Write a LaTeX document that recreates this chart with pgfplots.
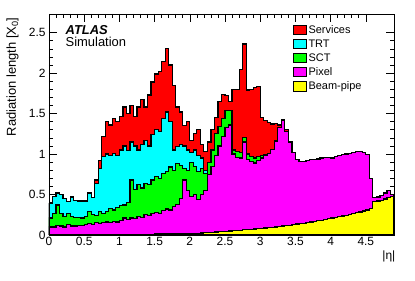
\documentclass[border=0pt]{standalone}
\usepackage{pgfplots}
\pgfplotsset{compat=1.18}
\usepackage{pgfplotstable}
\usepackage{fontspec}
\setmainfont{Liberation Sans}
\definecolor{rred}{RGB}{255,0,0}
\definecolor{rcyan}{RGB}{0,255,255}
\definecolor{rgreen}{RGB}{0,255,0}
\definecolor{rmag}{RGB}{255,0,255}
\definecolor{ryel}{RGB}{255,255,0}
\pgfplotstableread{
eta bp px sct trt tot
0.00 0.005 0.10 0.21 0.39 0.39
0.05 0.005 0.10 0.27 0.48 0.48
0.10 0.005 0.12 0.37 0.52 0.52
0.15 0.005 0.11 0.27 0.50 0.50
0.20 0.005 0.10 0.23 0.45 0.45
0.25 0.005 0.13 0.27 0.41 0.41
0.30 0.005 0.11 0.23 0.47 0.47
0.35 0.005 0.11 0.22 0.43 0.43
0.40 0.005 0.12 0.22 0.42 0.42
0.45 0.005 0.12 0.21 0.42 0.42
0.50 0.005 0.13 0.23 0.42 0.42
0.55 0.005 0.14 0.29 0.52 0.52
0.60 0.005 0.13 0.25 0.46 0.46
0.65 0.005 0.15 0.24 0.64 0.68
0.70 0.005 0.14 0.29 0.82 0.92
0.75 0.005 0.15 0.27 0.97 1.22
0.80 0.005 0.16 0.29 1.00 1.40
0.85 0.005 0.15 0.33 0.98 1.36
0.90 0.005 0.17 0.31 1.01 1.44
0.95 0.005 0.16 0.34 0.98 1.40
1.00 0.008 0.18 0.36 1.05 1.46
1.05 0.008 0.21 0.37 1.10 1.58
1.10 0.008 0.19 0.40 1.04 1.50
1.15 0.008 0.21 0.68 1.15 1.60
1.20 0.008 0.20 0.56 1.10 1.46
1.25 0.008 0.23 0.62 1.05 1.58
1.30 0.008 0.22 0.58 1.12 1.67
1.35 0.008 0.25 0.64 1.17 1.58
1.40 0.008 0.24 0.62 1.10 1.73
1.45 0.008 0.27 0.68 1.24 1.89
1.50 0.012 0.28 0.72 1.30 1.99
1.55 0.012 0.27 0.70 1.28 2.02
1.60 0.012 0.30 0.76 1.44 2.14
1.65 0.012 0.32 0.78 1.52 2.30
1.70 0.012 0.31 0.84 1.40 2.10
1.75 0.012 0.35 0.80 1.05 1.85
1.80 0.012 0.38 0.88 1.09 1.58
1.85 0.012 0.45 0.86 1.12 1.52
1.90 0.012 0.68 0.82 1.10 1.35
1.95 0.012 0.55 0.80 1.05 1.40
2.00 0.018 0.48 0.90 1.02 1.17
2.05 0.020 0.50 0.85 1.05 1.25
2.10 0.022 0.44 0.78 0.98 1.30
2.15 0.025 0.50 0.82 0.95 1.12
2.20 0.028 0.55 0.76 0.80 1.03
2.25 0.031 0.75 0.90 0.90 1.15
2.30 0.034 0.85 1.05 1.05 1.30
2.35 0.037 0.98 1.25 1.25 1.45
2.40 0.040 1.10 1.34 1.34 1.65
2.45 0.043 1.22 1.44 1.44 1.74
2.50 0.046 1.33 1.54 1.54 1.72
2.55 0.050 1.36 1.54 1.54 1.65
2.60 0.053 1.00 1.05 1.05 1.80
2.65 0.056 0.96 1.03 1.03 1.80
2.70 0.060 0.95 1.02 1.02 2.04
2.75 0.063 1.15 1.20 1.20 2.36
2.80 0.067 0.93 1.00 1.00 1.79
2.85 0.071 0.91 0.97 0.97 1.80
2.90 0.075 0.89 0.95 0.95 1.82
2.95 0.079 0.92 0.97 0.97 1.83
3.00 0.083 0.95 0.98 0.98 1.45
3.05 0.087 0.98 0.99 0.99 1.41
3.10 0.092 1.01 1.01 1.01 1.39
3.15 0.096 1.06 1.06 1.06 1.37
3.20 0.100 1.16 1.16 1.16 1.38
3.25 0.105 1.33 1.33 1.33 1.36
3.30 0.110 1.42 1.42 1.42 1.42
3.35 0.115 1.28 1.28 1.28 1.30
3.40 0.120 1.15 1.15 1.15 1.15
3.45 0.127 1.02 1.02 1.02 1.02
3.50 0.135 0.93 0.93 0.93 0.93
3.55 0.140 0.91 0.91 0.91 0.91
3.60 0.145 0.91 0.91 0.91 0.91
3.65 0.152 0.92 0.92 0.92 0.92
3.70 0.160 0.93 0.93 0.93 0.93
3.75 0.167 0.93 0.93 0.93 0.93
3.80 0.175 0.94 0.94 0.94 0.94
3.85 0.182 0.95 0.95 0.95 0.95
3.90 0.190 0.96 0.96 0.96 0.96
3.95 0.200 0.96 0.96 0.96 0.96
4.00 0.210 0.95 0.95 0.95 0.95
4.05 0.217 0.97 0.97 0.97 0.97
4.10 0.225 0.98 0.98 0.98 0.98
4.15 0.235 0.99 0.99 0.99 0.99
4.20 0.245 1.00 1.00 1.00 1.00
4.25 0.255 1.01 1.01 1.01 1.01
4.30 0.265 1.02 1.02 1.02 1.02
4.35 0.275 1.03 1.03 1.03 1.03
4.40 0.285 1.03 1.03 1.03 1.03
4.45 0.297 1.02 1.02 1.02 1.02
4.50 0.310 0.99 0.99 0.99 0.99
4.55 0.325 0.70 0.70 0.70 0.70
4.60 0.410 0.46 0.46 0.46 0.46
4.65 0.420 0.47 0.47 0.47 0.47
4.70 0.430 0.49 0.49 0.49 0.49
4.75 0.445 0.52 0.52 0.52 0.52
4.80 0.460 0.55 0.55 0.55 0.55
4.85 0.480 0.50 0.50 0.50 0.50
4.90 0.480 0.50 0.50 0.50 0.50
}\mat
\begin{document}
\begin{tikzpicture}
\begin{axis}[
  name=ax, at={(0,0)}, anchor=south west,
  scale only axis, width=345bp, height=221bp,
  xmin=0, xmax=4.9, ymin=0, ymax=2.73,
  xtick={0,0.5,1,1.5,2,2.5,3,3.5,4,4.5},
  ytick={0,0.5,1,1.5,2,2.5},
  minor x tick num=4, minor y tick num=4,
  tick align=inside, tick pos=both,
  major tick length=8bp, minor tick length=4bp,
  axis line style={line width=0.8pt},
  every tick/.style={black, line width=0.6pt},
  ticklabel style={font=\fontsize{12}{14}\selectfont},
  /pgf/number format/assume math mode=true,
  xticklabel style={yshift=1bp},
  ylabel={Radiation length [X\textsubscript{0}]},
  ylabel style={at={(axis description cs:-0.078,1)}, anchor=south east, font=\fontsize{13}{15}\selectfont},
  xlabel={|η|},
  xlabel style={at={(axis description cs:1.014,-0.055)}, anchor=north east, font=\fontsize{12}{14}\selectfont},
  legend style={at={(rel axis cs:0.708,0.955)}, anchor=north west, draw=none, fill=none,
    font=\fontsize{11}{13}\selectfont, row sep=2.4bp, inner sep=0pt,
    nodes={inner sep=1.2bp}},
  legend cell align=left,
  legend image code/.code={\draw[#1,draw=black,line width=0.9pt] (0bp,-4.7bp) rectangle (13bp,4.7bp);},
]
\addplot[const plot, fill=rred, draw=black, line width=1.2pt] table[x=eta,y=tot]{\mat} \closedcycle;
\addlegendentry{Services}
\addplot[const plot, fill=rcyan, draw=black, line width=1.2pt] table[x=eta,y=trt]{\mat} \closedcycle;
\addlegendentry{TRT}
\addplot[const plot, fill=rgreen, draw=black, line width=1.2pt] table[x=eta,y=sct]{\mat} \closedcycle;
\addlegendentry{SCT}
\addplot[const plot, fill=rmag, draw=black, line width=1.2pt] table[x=eta,y=px]{\mat} \closedcycle;
\addlegendentry{Pixel}
\addplot[const plot, fill=ryel, draw=black, line width=1.2pt] table[x=eta,y=bp]{\mat} \closedcycle;
\addlegendentry{Beam-pipe}
\node[anchor=base west, font=\fontsize{13}{15}\selectfont\bfseries\itshape] at (rel axis cs:0.038,0.909) {ATLAS};
\node[anchor=base west, font=\fontsize{13}{15}\selectfont] at (rel axis cs:0.038,0.855) {Simulation};
\end{axis}
\pgfresetboundingbox
\path[use as bounding box] (-49bp,-46bp) rectangle (366bp,235bp);
\end{tikzpicture}
\end{document}
